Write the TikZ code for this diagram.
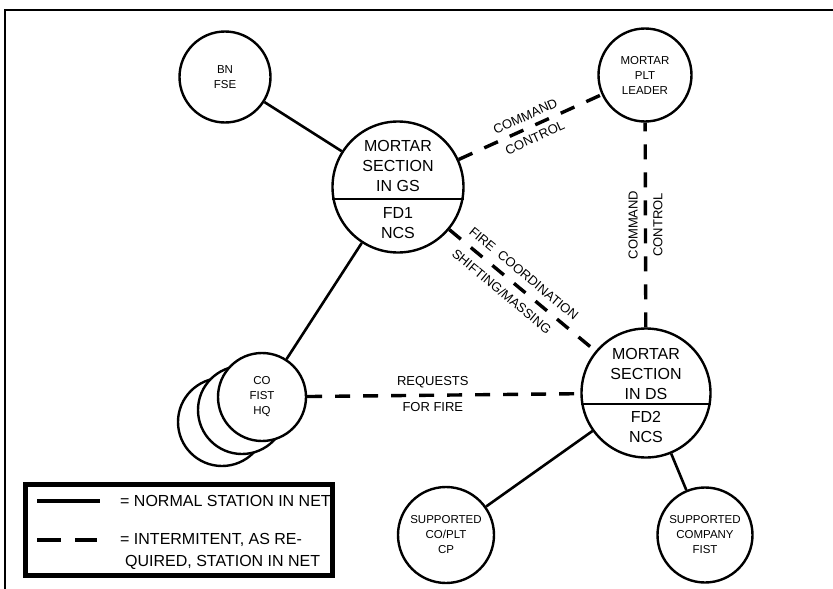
\documentclass[tikz,border=0pt]{standalone}
\usepackage{fontspec}
\setmainfont{Liberation Sans}
\tikzset{
  station/.style = {circle, draw, line width=2.4pt, fill=white, inner sep=0pt},
  bigstation/.style = {station, minimum size=131pt},
  smallstation/.style = {station, minimum size=92pt, align=center, font=\fontsize{11.5}{15}\selectfont},
  bigtext/.style = {align=center, inner sep=0pt, font=\fontsize{16}{20}\selectfont},
  linklabel/.style = {font=\fontsize{13}{15}\selectfont, inner sep=3pt},
  legendtext/.style = {font=\fontsize{16}{22}\selectfont, inner sep=0pt},
  netline/.style = {line width=2.6pt},
  netdash/.style = {line width=3.4pt, dash pattern=on 15pt off 13pt}
}

\begin{document}
\begin{tikzpicture}[x=1pt,y=-1pt]
  \useasboundingbox (0,0) rectangle (833,589);
  % frame
  \draw[line width=2pt] (833,10) -- (5,10) -- (5,589);
  % mortar sections
  \node (GS) at (398,187) [bigstation] {};
  \draw[line width=2pt] (GS.190) -- (GS.-10);
  \node (GSup) at ([yshift=21pt]GS.center) [bigtext] {MORTAR\\SECTION\\IN GS};
  \node (GSlow) at ([yshift=-36pt]GS.center) [bigtext] {FD1\\NCS};
  \node (DS) at (646,393) [bigstation, minimum size=129pt] {};
  \draw[line width=2pt] (DS.190) -- (DS.-10);
  \node (DSup) at ([yshift=19pt]DS.center) [bigtext] {MORTAR\\SECTION\\IN DS};
  \node (DSlow) at ([yshift=-34pt]DS.center) [bigtext] {FD2\\NCS};
  % other stations
  \node (BN) at (225,77) [smallstation, minimum size=91pt] {BN\\FSE};
  \node (PLT) at (645,75) [smallstation, minimum size=93pt] {MORTAR\\PLT\\LEADER};
  \node (COFIST3) at (222,422) [smallstation, minimum size=88pt] {};
  \node (COFIST2) at (242,410) [smallstation, minimum size=88pt] {};
  \node (COFIST) at (262,397) [smallstation, minimum size=88pt] {CO\\FIST\\HQ};
  \node (SUPCP) at (446,535) [smallstation, minimum size=96pt] {SUPPORTED\\CO/PLT\\CP};
  \node (SUPFIST) at (705,535) [smallstation, minimum size=95pt] {SUPPORTED\\COMPANY\\FIST};
  % normal links
  \draw[netline] (BN) -- (GS);
  \draw[netline] (GS) -- (COFIST);
  \draw[netline] (DS) -- (SUPCP);
  \draw[netline] (DS) -- (SUPFIST);
  % intermittent links
  \draw[netdash] (GS) -- node[linklabel, sloped, above=2.5pt] (cmdA) {COMMAND} node[linklabel, sloped, below=2.5pt] (ctlA) {CONTROL} (PLT);
  \draw[netdash] (DS) -- node[linklabel, rotate=90, above=3pt] (cmdB) {COMMAND} node[linklabel, rotate=90, below=3pt] (ctlB) {CONTROL} (PLT);
  \draw[netdash] (GS) -- node[linklabel, sloped, above=4.5pt, pos=0.45] (fire) {FIRE\ \ COORDINATION} node[linklabel, sloped, below=4.5pt, pos=0.42] (shift) {SHIFTING/MASSING} (DS);
  \draw[netdash] (COFIST) -- node[linklabel, above=2.5pt, pos=0.46] (req) {REQUESTS} node[linklabel, below=2.5pt, pos=0.46] (forfire) {FOR FIRE} (DS);
  % legend
  \node (legend) at (179,530) [draw, line width=4.5pt, minimum width=307pt, minimum height=91pt, inner sep=0pt] {};
  \coordinate (solidA) at (37,501);
  \coordinate (solidB) at (100,501);
  \draw[line width=3.5pt] (solidA) -- (solidB);
  \node (solidtxt) at (120,501) [legendtext, anchor=west] {= NORMAL STATION IN NET};
  \coordinate (dashA) at (37,540);
  \coordinate (dashB) at (97,540);
  \draw[line width=4pt, dash pattern=on 24pt off 14pt] (dashA) -- (dashB);
  \node (dashtxt) at (120,551) [legendtext, anchor=west, align=left] {= INTERMITENT, AS RE-\\\hspace{5pt}QUIRED, STATION IN NET};
\end{tikzpicture}
\end{document}
